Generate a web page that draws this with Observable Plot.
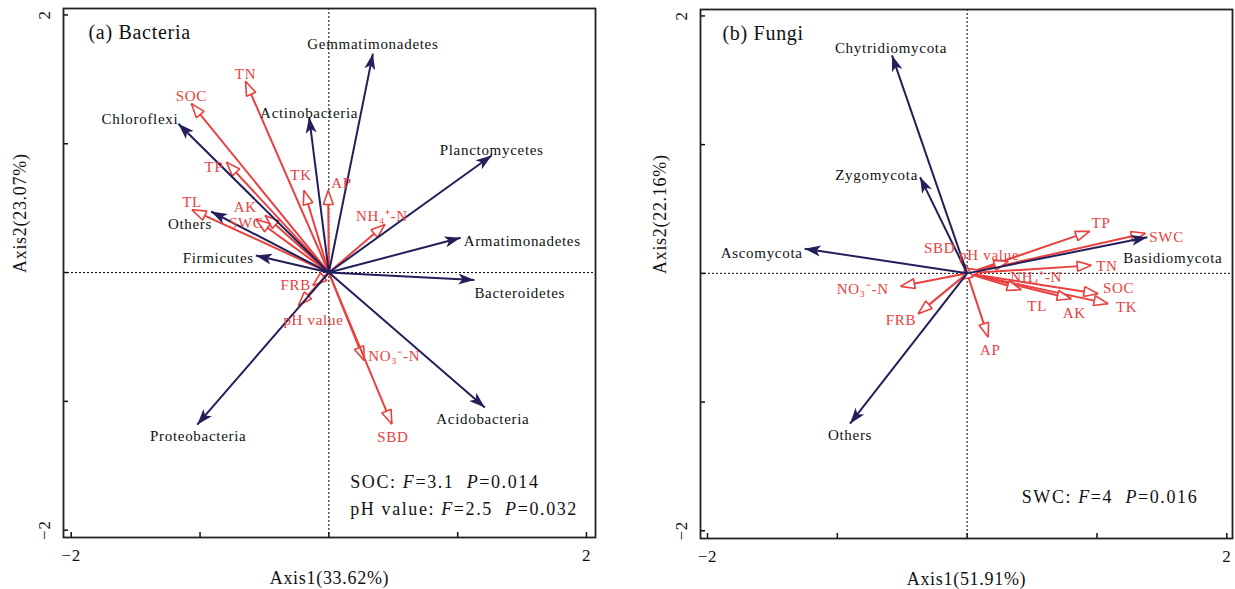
<!DOCTYPE html>
<html><head><meta charset="utf-8">
<script src="https://cdn.jsdelivr.net/npm/d3@7"></script>
<script src="https://cdn.jsdelivr.net/npm/@observablehq/plot@0.6"></script>
<style>
body{margin:0;background:#fff;width:1235px;height:589px;position:relative;overflow:hidden}
#a{position:absolute;left:0;top:0}
#b{position:absolute;left:630px;top:0}
</style></head><body><div id="a"></div><div id="b"></div>
<script>
// ---------- DATA: (a) Bacteria ----------
const bactPhyla = ["Gemmatimonadetes","Actinobacteria","Chloroflexi","Planctomycetes","Armatimonadetes","Bacteroidetes","Firmicutes","Others","Proteobacteria","Acidobacteria"];
const bactPhylaAxis1 = [0.342,-0.153,-1.168,1.264,1.023,1.130,-0.567,-0.914,-1.022,1.211];
const bactPhylaAxis2 = [1.700,1.207,1.155,0.909,0.270,-0.057,0.132,0.474,-1.181,-1.047];
const bactEnv = ["TN","SOC","TP","TK","AP","TL","AK","SWC","NH₄⁺-N","FRB","pH value","NO₃⁻-N","SBD"];
const bactEnvAxis1 = [-0.647,-1.067,-0.795,-0.193,-0.005,-1.062,-0.494,-0.564,0.435,-0.124,-0.236,0.275,0.489];
const bactEnvAxis2 = [1.484,1.311,0.857,0.637,0.637,0.487,0.443,0.412,0.373,-0.100,-0.257,-0.684,-1.176];

// ---------- DATA: (b) Fungi ----------
const fungPhyla = ["Chytridiomycota","Zygomycota","Ascomycota","Basidiomycota","Others"];
const fungPhylaAxis1 = [-0.579,-0.363,-1.252,1.388,-0.902];
const fungPhylaAxis2 = [1.694,0.748,0.192,0.280,-1.168];
const fungEnv = ["TP","SWC","TN","SOC","TK","AK","TL","NO₃⁻-N","FRB","AP","pH value","NH₄⁺-N","SBD"];
const fungEnvAxis1 = [0.943,1.372,0.956,1.008,1.085,0.802,0.416,-0.512,-0.377,0.162,0.316,0.108,-0.015];
const fungEnvAxis2 = [0.326,0.311,0.062,-0.158,-0.235,-0.197,-0.127,-0.101,-0.313,-0.495,0.093,0.023,0.070];

const axisTicks = [-2,-1,0,1,2];
const tickLabels = [-2,2];

// ---------- label placement (layout, px) ----------
const bactPhylaLab = [["middle",0,-9],["middle",0,-4],["end",0,-5],["middle",0,-5],["start",3,3],["start",0,13],["end",-2,3],["end",1,13],["middle",1,12],["middle",-2,12]];
const bactEnvLab = [["middle",0,-7],["middle",0,-7],["end",-3,5],["middle",-3,-15],["start",3,-7],["middle",0,-8],["middle",-20,-8],["middle",-10,4],["middle",-3,-8],["end",-2,0],["middle",15,15],["start",4,-4],["middle",1,13]];
const fungPhylaLab = [["middle",-1,-7],["end",-2,-2],["end",-2,5],["start",-24,21],["middle",0,11]];
const fungEnvLab = [["start",2,-8],["start",4,4],["start",5,1],["start",5,-6],["start",8,4],["middle",3,14],["middle",16,16],["end",-12,3],["end",-2,7],["middle",2,13],["middle",-19,-6],["middle",55,7],["end",-10,-16]];

const NAVY = "#221f5a", RED = "#e8413f";
const FONT = "'Liberation Serif','Times New Roman',serif";

function navyHead(color) {
  const m = d3.create("svg:marker")
    .attr("viewBox","-17 -6 18 12").attr("markerWidth",18).attr("markerHeight",12)
    .attr("markerUnits","userSpaceOnUse").attr("orient","auto").attr("refX",0).attr("refY",0)
    .attr("overflow","visible");
  m.append("path").attr("d","M0,0L-16,-5.5L-12,0L-16,5.5Z").attr("fill",NAVY).attr("stroke","none");
  return m.node();
}
function redHead(color) {
  const m = d3.create("svg:marker")
    .attr("viewBox","-17 -7 18 14").attr("markerWidth",18).attr("markerHeight",14)
    .attr("markerUnits","userSpaceOnUse").attr("orient","auto").attr("refX",0).attr("refY",0)
    .attr("overflow","visible");
  m.append("path").attr("d","M0,0L-14,-5L-14,5Z").attr("fill","white").attr("stroke",RED)
    .attr("stroke-width",1.6).attr("stroke-linejoin","miter");
  return m.node();
}

function rows(names, xs, ys) { return names.map((n,i) => ({name:n, x:xs[i], y:ys[i]})); }

function labelMarks(data, lab, color) {
  return data.map((d,i) => Plot.text([d], {x:"x", y:"y", text:"name", fill:color,
    textAnchor: lab[i][0], dx: lab[i][1], dy: lab[i][2], lineAnchor:"middle", fontSize:15}));
}

function panel(cfg) {
  const phyla = rows(cfg.phyla, cfg.p1, cfg.p2);
  const env = rows(cfg.env, cfg.e1, cfg.e2);
  return Plot.plot({
    width: cfg.width, height: 589,
    marginLeft: cfg.ml, marginRight: cfg.mr, marginTop: cfg.mt, marginBottom: cfg.mb,
    x: {domain: cfg.xd, label: null},
    y: {domain: cfg.yd, label: null},
    style: {fontFamily: FONT, letterSpacing: "0.7px", color: "#111", background: "white", overflow: "visible"},
    marks: [
      Plot.ruleX([0], {stroke:"#000", strokeDasharray:"2,2", strokeWidth:1}),
      Plot.ruleY([0], {stroke:"#000", strokeDasharray:"2,2", strokeWidth:1}),
      Plot.link(env, {x1:0, y1:0, x2:"x", y2:"y", stroke:RED, strokeWidth:2, markerEnd: redHead}),
      Plot.link(phyla, {x1:0, y1:0, x2:"x", y2:"y", stroke:NAVY, strokeWidth:2, markerEnd: navyHead}),
      ...labelMarks(env, cfg.envLab, RED),
      ...labelMarks(phyla, cfg.phylaLab, "#111"),
      Plot.text([cfg.title], {frameAnchor:"top-left", dx:cfg.titleDx, dy:24, lineAnchor:"middle", textAnchor:"start", fontSize:20, fill:"#111"}),
      Plot.axisX({ticks: axisTicks, tickSize: -5, tickFormat: () => "", label: null, strokeWidth: 1.5}),
      Plot.axisY({ticks: axisTicks, tickSize: -5, tickFormat: () => "", label: null, strokeWidth: 1.5}),
      Plot.text(tickLabels, {x: d => d, text: d => (d < 0 ? "\u2212" : "") + Math.abs(d), frameAnchor:"bottom", dy:18, lineAnchor:"middle", fontSize:17, fill:"#111"}),
      Plot.text(tickLabels, {y: d => d, text: d => (d < 0 ? "\u2212" : "") + Math.abs(d), frameAnchor:"left", dx:-19, rotate:-90, lineAnchor:"middle", textAnchor:"middle", fontSize:17, fill:"#111"}),
      Plot.text([cfg.xLabel], {frameAnchor:"bottom", dy:41, lineAnchor:"middle", fontSize:18, fill:"#111"}),
      Plot.text([cfg.yLabel], {frameAnchor:"left", dx:cfg.yLabelDx, rotate:-90, lineAnchor:"middle", fontSize:18, fill:"#111"}),
      Plot.frame({stroke:"#222", strokeWidth:1.8})
    ]
  });
}

function annotate(plot, lines) {
  const sx = plot.scale("x"), sy = plot.scale("y");
  const svg = d3.select(plot);
  for (const ln of lines) {
    const t = svg.append("text").attr("x", sx.apply(ln.x)).attr("y", sy.apply(ln.y)).attr("dy","0.35em")
      .attr("text-anchor","start").attr("font-size", 18).attr("fill", "#111")
      .style("white-space","pre").style("letter-spacing","1.6px").style("font-family", FONT);
    ln.parts.forEach(p => t.append("tspan").attr("font-style", p[1] ? "italic" : "normal").text(p[0]));
  }
}

const plotA = panel({
  width: 615, ml: 63, mr: 20, mt: 8, mb: 52,
  xd: [-2.06, 2.07], yd: [-2.057, 2.05],
  phyla: bactPhyla, p1: bactPhylaAxis1, p2: bactPhylaAxis2,
  env: bactEnv, e1: bactEnvAxis1, e2: bactEnvAxis2,
  phylaLab: bactPhylaLab, envLab: bactEnvLab,
  title: "(a) Bacteria", titleDx: 25,
  xLabel: "Axis1(33.62%)", yLabel: "Axis2(23.07%)", yLabelDx: -43
});
annotate(plotA, [
  {x: 0.17, y: -1.624, parts: [["SOC: ",0],["F",1],["=3.1  ",0],["P",1],["=0.014",0]]},
  {x: 0.17, y: -1.834, parts: [["pH value: ",0],["F",1],["=2.5  ",0],["P",1],["=0.032",0]]}
]);
document.getElementById("a").appendChild(plotA);

const plotB = panel({
  width: 605, ml: 70, mr: 3, mt: 9, mb: 51,
  xd: [-2.054, 2.044], yd: [-2.06, 2.05],
  phyla: fungPhyla, p1: fungPhylaAxis1, p2: fungPhylaAxis2,
  env: fungEnv, e1: fungEnvAxis1, e2: fungEnvAxis2,
  phylaLab: fungPhylaLab, envLab: fungEnvLab,
  title: "(b) Fungi", titleDx: 22,
  xLabel: "Axis1(51.91%)", yLabel: "Axis2(22.16%)", yLabelDx: -40
});
annotate(plotB, [
  {x: 0.424, y: -1.74, parts: [["SWC: ",0],["F",1],["=4  ",0],["P",1],["=0.016",0]]}
]);
document.getElementById("b").appendChild(plotB);
</script>
</body></html>
